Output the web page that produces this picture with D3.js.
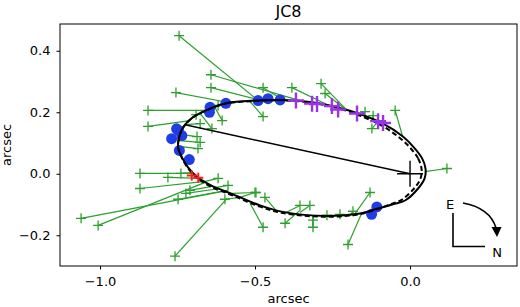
<!DOCTYPE html>
<html lang="en">
<head>
  <meta charset="UTF-8">
  <title>JC8 orbit</title>
  <script src="https://d3js.org/d3.v7.min.js"></script>
  <style>
    body { margin: 0; background: #fff; }
    svg { display: block; background: #fff; font-family: "DejaVu Sans", sans-serif; }
    .axis text { font-size: 13px; fill: #000; font-family: "DejaVu Sans", sans-serif; }
    .axis path, .axis line { stroke: #000; stroke-width: 1; }
    .label { font-size: 13px; fill: #000; }
  </style>
</head>
<body>
<svg width="520" height="307"></svg>
<script>
  // ---- data (arcsec) ----
  // model orbit, solid
  const orbitSolid = [
    [0.050, 0.017], [0.039, 0.050], [0.013, 0.085], [-0.023, 0.121], [-0.087, 0.163],
    [-0.194, 0.205], [-0.300, 0.230], [-0.410, 0.240], [-0.494, 0.238], [-0.590, 0.230],
    [-0.645, 0.212], [-0.700, 0.184], [-0.732, 0.151], [-0.745, 0.118], [-0.748, 0.086],
    [-0.736, 0.054], [-0.716, 0.021], [-0.687, -0.010], [-0.642, -0.038], [-0.571, -0.067],
    [-0.484, -0.103], [-0.410, -0.124], [-0.268, -0.137], [-0.161, -0.129], [-0.106, -0.114],
    [-0.055, -0.099], [-0.016, -0.087], [0.026, -0.048], [0.047, -0.015]
  ];
  // second orbit solution, dashed
  const orbitDashed = [
    [0.037, 0.017], [0.026, 0.050], [0.000, 0.085], [-0.035, 0.118], [-0.094, 0.158],
    [-0.196, 0.202], [-0.300, 0.228], [-0.410, 0.239], [-0.494, 0.237], [-0.590, 0.229],
    [-0.645, 0.211], [-0.700, 0.183], [-0.732, 0.150], [-0.745, 0.117], [-0.748, 0.085],
    [-0.736, 0.052], [-0.716, 0.018], [-0.687, -0.013], [-0.642, -0.042], [-0.571, -0.071],
    [-0.484, -0.107], [-0.410, -0.128], [-0.268, -0.140], [-0.161, -0.131], [-0.106, -0.115],
    [-0.060, -0.098], [-0.026, -0.084], [0.013, -0.048], [0.034, -0.015]
  ];
  // green measurements: [obsX, obsY, modelX, modelY]
  const greenObs = [
    [-0.745, 0.449, -0.490, 0.238], [-0.642, 0.322, -0.355, 0.238], [-0.642, 0.280, -0.477, 0.238],
    [-0.755, 0.264, -0.581, 0.231], [-0.845, 0.206, -0.661, 0.206], [-0.845, 0.154, -0.710, 0.173],
    [-0.690, 0.192, -0.700, 0.182], [-0.677, 0.163, -0.726, 0.160], [-0.687, 0.121, -0.742, 0.128],
    [-0.677, 0.102, -0.745, 0.108], [-0.684, 0.082, -0.745, 0.089], [-0.639, 0.147, -0.677, 0.196],
    [-0.619, 0.222, -0.639, 0.212], [-0.606, 0.173, -0.629, 0.215], [-0.474, 0.280, -0.410, 0.241],
    [-0.474, 0.186, -0.516, 0.235], [-0.381, 0.280, -0.268, 0.225], [-0.287, 0.293, -0.203, 0.206],
    [-0.274, 0.261, -0.203, 0.206], [-0.145, 0.202, -0.161, 0.196], [-0.119, 0.189, -0.119, 0.180],
    [-0.123, 0.147, -0.103, 0.170], [-0.048, 0.206, -0.023, 0.118], [0.119, 0.017, 0.048, 0.007],
    [-0.129, -0.061, -0.177, -0.129], [-0.200, -0.230, -0.155, -0.126], [-0.184, -0.122, -0.194, -0.135],
    [-0.226, -0.132, -0.226, -0.139], [-0.268, -0.135, -0.268, -0.138], [-0.313, -0.151, -0.313, -0.135],
    [-0.313, -0.174, -0.313, -0.135], [-0.323, -0.103, -0.355, -0.126], [-0.355, -0.103, -0.400, -0.126],
    [-0.403, -0.161, -0.355, -0.119], [-0.474, -0.174, -0.516, -0.096], [-0.468, -0.077, -0.435, -0.116],
    [-0.500, -0.061, -0.548, -0.077], [-0.871, 0.001, -0.700, 0.001], [-0.781, -0.012, -0.677, -0.015],
    [-0.739, 0.001, -0.703, 0.004], [-0.871, -0.048, -0.661, -0.025], [-0.619, -0.015, -0.661, -0.025],
    [-0.587, -0.038, -0.629, -0.045], [-1.061, -0.145, -0.587, -0.054], [-1.006, -0.168, -0.661, -0.028],
    [-0.758, -0.268, -0.590, -0.080], [-0.748, -0.083, -0.590, -0.054], [-0.723, -0.064, -0.613, -0.048],
    [-0.597, -0.083, -0.548, -0.077], [-0.497, -0.061, -0.574, -0.064], [-0.710, -0.054, -0.639, -0.041]
  ];
  const blueObs = [
    [-0.753, 0.146], [-0.769, 0.114], [-0.736, 0.124], [-0.747, 0.141], [-0.744, 0.076],
    [-0.712, 0.046], [-0.645, 0.216], [-0.647, 0.200], [-0.594, 0.229], [-0.490, 0.238],
    [-0.458, 0.244], [-0.419, 0.240], [-0.107, -0.108], [-0.124, -0.132]
  ];
  const purpleObs = [
    [-0.368, 0.238], [-0.316, 0.228], [-0.300, 0.227], [-0.252, 0.220],
    [-0.232, 0.209], [-0.171, 0.196], [-0.103, 0.171], [-0.087, 0.165]
  ];
  const redObs = [[-0.704, -0.006], [-0.683, -0.013]];
  const primary = [0, 0];
  const nodeLine = [[0, 0], [-0.729, 0.160]];
  const xTicks = [-1.0, -0.5, 0.0];
  const yTicks = [-0.2, 0.0, 0.2, 0.4];

  const svg = d3.select("svg");
  const margin = { left: 60, right: 3, top: 24, bottom: 41 };
  const W = 520, H = 307;

  const x = d3.scaleLinear().domain([-1.129, 0.345]).range([margin.left, W - margin.right]);
  const y = d3.scaleLinear().domain([-0.300, 0.487]).range([H - margin.bottom, margin.top]);

  const plot = svg.append("g");
  plot.append("clipPath").attr("id", "clip")
    .append("rect")
    .attr("x", x.range()[0]).attr("y", y.range()[1])
    .attr("width", x.range()[1] - x.range()[0])
    .attr("height", y.range()[0] - y.range()[1]);
  const g = plot.append("g").attr("clip-path", "url(#clip)");

  function cross(sel, size) {
    const h = size / 2;
    return sel.attr("d", d => `M${x(d[0]) - h},${y(d[1])}H${x(d[0]) + h}M${x(d[0])},${y(d[1]) - h}V${y(d[1]) + h}`);
  }

  // residual lines
  const green = "#2ca02c";
  g.selectAll(".res").data(greenObs).join("line")
    .attr("x1", d => x(d[0])).attr("y1", d => y(d[1]))
    .attr("x2", d => x(d[2])).attr("y2", d => y(d[3]))
    .attr("stroke", green).attr("stroke-width", 1.2);
  g.selectAll(".gcross").data(greenObs).join("path")
    .call(cross, 10)
    .attr("stroke", green).attr("stroke-width", 1.3).attr("fill", "none");

  // blue points
  g.selectAll(".blue").data(blueObs).join("circle")
    .attr("cx", d => x(d[0])).attr("cy", d => y(d[1])).attr("r", 5.5)
    .attr("fill", "#1f3de6");

  // orbits
  const orbitLine = d3.line().x(d => x(d[0])).y(d => y(d[1])).curve(d3.curveCatmullRomClosed);
  g.append("path").datum(orbitSolid).attr("d", orbitLine)
    .attr("fill", "none").attr("stroke", "#000").attr("stroke-width", 2);
  g.append("path").datum(orbitDashed).attr("d", orbitLine)
    .attr("fill", "none").attr("stroke", "#000").attr("stroke-width", 2)
    .attr("stroke-dasharray", "5,3");

  // line of nodes
  g.append("line")
    .attr("x1", x(nodeLine[0][0])).attr("y1", y(nodeLine[0][1]))
    .attr("x2", x(nodeLine[1][0])).attr("y2", y(nodeLine[1][1]))
    .attr("stroke", "#000").attr("stroke-width", 1.6);

  // purple and red points
  g.selectAll(".purple").data(purpleObs).join("path")
    .call(cross, 16)
    .attr("stroke", "#9933e6").attr("stroke-width", 2.4).attr("fill", "none");
  g.selectAll(".red").data(redObs).join("path")
    .call(cross, 10)
    .attr("stroke", "#ff1a1a").attr("stroke-width", 2).attr("fill", "none");

  // primary star
  g.append("path").datum(primary).call(cross, 26)
    .attr("stroke", "#000").attr("stroke-width", 1.4).attr("fill", "none");

  // axes
  svg.append("g").attr("class", "axis")
    .attr("transform", `translate(0,${y.range()[0]})`)
    .call(d3.axisBottom(x).tickValues(xTicks).tickFormat(d3.format(".1f")).tickSize(3.5).tickPadding(7))
    .call(s => s.select(".domain").remove());
  svg.append("g").attr("class", "axis")
    .attr("transform", `translate(${x.range()[0]},0)`)
    .call(d3.axisLeft(y).tickValues(yTicks).tickFormat(d3.format(".1f")).tickSize(3.5).tickPadding(6))
    .call(s => s.select(".domain").remove());

  svg.append("rect")
    .attr("x", x.range()[0]).attr("y", y.range()[1])
    .attr("width", x.range()[1] - x.range()[0])
    .attr("height", y.range()[0] - y.range()[1])
    .attr("fill", "none").attr("stroke", "#000").attr("stroke-width", 1);

  // labels
  svg.append("text").attr("class", "label")
    .attr("x", (x.range()[0] + x.range()[1]) / 2).attr("y", 303)
    .attr("text-anchor", "middle").text("arcsec");
  svg.append("text").attr("class", "label")
    .attr("transform", `translate(11,${(y.range()[0] + y.range()[1]) / 2}) rotate(-90)`)
    .attr("text-anchor", "middle").text("arcsec");
  svg.append("text")
    .attr("x", (x.range()[0] + x.range()[1]) / 2).attr("y", 17)
    .attr("text-anchor", "middle").style("font-size", "16px").text("JC8");

  // compass (placed from the bottom-right corner of the axes)
  const cx0 = x.range()[1], cy0 = y.range()[0];
  const comp = svg.append("g").attr("transform", `translate(${cx0},${cy0})`);
  comp.append("path").attr("d", "M-64,-53V-19.5H-32")
    .attr("fill", "none").attr("stroke", "#000").attr("stroke-width", 1.6);
  comp.append("text").attr("x", -67).attr("y", -57.5).attr("text-anchor", "middle")
    .style("font-size", "13px").text("E");
  comp.append("text").attr("x", -20).attr("y", -9.5).attr("text-anchor", "middle")
    .style("font-size", "13px").text("N");
  comp.append("path").attr("d", "M-54,-63Q-27,-58,-21,-38")
    .attr("fill", "none").attr("stroke", "#000").attr("stroke-width", 1.6);
  comp.append("path").attr("d", "M-25.5,-39L-15.5,-39L-20,-29Z").attr("fill", "#000");
</script>
</body>
</html>
